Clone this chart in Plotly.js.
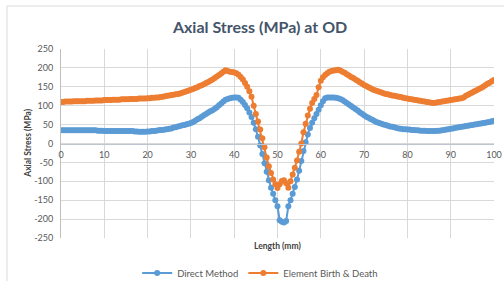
<!DOCTYPE html>
<html>
<head>
<meta charset="utf-8">
<script src="https://cdn.plot.ly/plotly-3.0.1.min.js"></script>
<style>
html,body{margin:0;padding:0;background:#fff;}
#chart{width:504px;height:281px;}
</style>
</head>
<body>
<div id="chart"></div>
<script>
// Length (mm)
var lengthMm = [
  0,0.5,1,1.5,2,2.5,3,3.5,4,4.5,
  5,5.5,6,6.5,7,7.5,8,8.5,9,9.5,
  10,10.5,11,11.5,12,12.5,13,13.5,14,14.5,
  15,15.5,16,16.5,17,17.5,18,18.5,19,19.5,
  20,20.5,21,21.5,22,22.5,23,23.5,24,24.5,
  25,25.5,26,26.5,27,27.5,28,28.5,29,29.5,
  30,30.5,31,31.5,32,32.5,33,33.5,34,34.5,
  35,35.5,36,36.5,37,37.5,38,38.5,39,39.5,
  40,40.5,41,41.5,42,42.5,43,43.5,44,44.5,
  45,45.5,46,46.5,47,47.5,48,48.5,49,49.5,
  50,50.5,51,51.5,52,52.5,53,53.5,54,54.5,
  55,55.5,56,56.5,57,57.5,58,58.5,59,59.5,
  60,60.5,61,61.5,62,62.5,63,63.5,64,64.5,
  65,65.5,66,66.5,67,67.5,68,68.5,69,69.5,
  70,70.5,71,71.5,72,72.5,73,73.5,74,74.5,
  75,75.5,76,76.5,77,77.5,78,78.5,79,79.5,
  80,80.5,81,81.5,82,82.5,83,83.5,84,84.5,
  85,85.5,86,86.5,87,87.5,88,88.5,89,89.5,
  90,90.5,91,91.5,92,92.5,93,93.5,94,94.5,
  95,95.5,96,96.5,97,97.5,98,98.5,99,99.5,
  100
];

// Direct Method (MPa)
var directMethod = [
  35,35,35,35,35,35,35,35,35,35,
  35,35,35,35,35,35,35,34,34,34,
  33,33,33,33,33,33,33,33,33,33,
  33,33,33,33,32,32,31,31,31,31,
  32,32,33,33,34,35,36,36,37,38,
  39,40,42,43,45,46,48,49,51,52,
  54,57,60,64,67,71,75,78,82,85,
  88,92,96,101,106,111,116,118,120,121,
  122,122,121,116,110,102,93,82,70,55,
  38,18,-5,-28,-52,-75,-97,-117,-133,-150,
  -166,-203,-207,-209,-205,-166,-150,-133,-115,-95,
  -72,-46,-20,3,24,41,55,67,78,89,
  101,112,120,122,122,122,122,121,120,118,
  115,111,107,103,99,95,91,87,83,79,
  75,71,68,65,62,59,56,54,52,50,
  49,47,45,44,43,41,40,39,38,38,
  37,37,36,36,35,35,34,34,34,33,
  33,33,33,33,34,34,35,36,37,38,
  39,40,41,42,43,44,45,46,47,48,
  49,50,51,52,53,54,55,56,57,59,
  60
];

// Element Birth & Death (MPa)
var elementBirthDeath = [
  110,110,111,111,111,111,112,112,112,112,
  112,112,113,113,113,113,114,114,114,114,
  115,115,115,115,116,116,116,116,117,117,
  117,117,118,118,118,118,119,119,119,119,
  120,120,121,121,122,122,123,124,125,126,
  127,128,129,130,131,132,134,136,138,140,
  142,144,147,149,152,154,157,160,163,166,
  169,173,177,181,185,190,194,192,190,189,
  188,186,182,176,169,160,150,138,124,100,
  78,58,37,14,-10,-37,-60,-78,-95,-108,
  -118,-108,-99,-97,-105,-117,-100,-82,-64,-45,
  -22,0,30,52,74,92,107,118,128,149,
  166,175,181,186,190,192,193,194,195,193,
  190,187,183,180,176,173,169,166,162,159,
  155,152,149,146,143,141,139,137,135,133,
  131,130,128,127,126,125,124,123,121,120,
  119,118,117,116,115,114,113,112,111,110,
  109,108,107,108,109,110,111,112,113,114,
  115,116,117,118,119,120,122,126,129,132,
  135,138,141,144,147,150,154,158,161,165,
  168
];

var xTickVals = [0,10,20,30,40,50,60,70,80,90,100];
var xTickText = ["0","10","20","30","40","50","60","70","80","90","100"];
var yTickVals = [250,200,150,100,50,0,-50,-100,-150,-200,-250];
var yTickText = ["250","200","150","100","50","0","-50","-100","-150","-200","-250"];

var FONT = "Lato, 'Open Sans', sans-serif";
var BLUE = "#5B9BD5", ORANGE = "#ED7D31";

var traces = [
  {x: lengthMm, y: directMethod, name: "Direct Method", type: "scatter", mode: "lines+markers",
   line: {color: BLUE, width: 2}, marker: {color: BLUE, size: 6}},
  {x: lengthMm, y: elementBirthDeath, name: "Element Birth & Death", type: "scatter", mode: "lines+markers",
   line: {color: ORANGE, width: 2}, marker: {color: ORANGE, size: 6}}
];

var layout = {
  width: 504, height: 281,
  margin: {l: 61, r: 10, t: 49, b: 43, pad: 0, autoexpand: false},
  paper_bgcolor: "#fff", plot_bgcolor: "#fff",
  font: {family: FONT, color: "#595959", size: 9},
  showlegend: true,
  title: {text: "Axial Stress (MPa) at OD", font: {family: FONT, size: 16, color: "#44546A", weight: "bold"},
          xref: "container", x: 0.516, xanchor: "center", yref: "container", y: 0.904, yanchor: "middle",
          automargin: false},
  xaxis: {range: [0, 100], tickvals: xTickVals, ticktext: xTickText,
          anchor: "free", position: 0.5, automargin: false,
          showgrid: true, gridcolor: "#D9D9D9", gridwidth: 1,
          showline: true, linecolor: "#BFC5CE", linewidth: 1,
          zeroline: false, ticks: "outside", ticklen: 3, tickcolor: "rgba(0,0,0,0)",
          tickfont: {family: FONT, size: 9, color: "#595959"}},
  yaxis: {range: [-250, 250], tickvals: yTickVals, ticktext: yTickText, automargin: false,
          showgrid: true, gridcolor: "#D9D9D9", gridwidth: 1,
          showline: true, linecolor: "#BFBFBF", linewidth: 1,
          zeroline: false, ticks: "outside", ticklen: 5, tickcolor: "rgba(0,0,0,0)",
          tickfont: {family: FONT, size: 9, color: "#595959"}},
  legend: {orientation: "h", x: 0.46, xanchor: "center", y: -0.185, yanchor: "middle",
           font: {family: FONT, size: 9.5, color: "#595959"}, itemwidth: 30, bgcolor: "rgba(0,0,0,0)"},
  annotations: [
    {text: "Length (mm)", xref: "paper", yref: "paper", x: 0.5, y: -0.04, yanchor: "middle", showarrow: false,
     font: {family: FONT, size: 8.5, color: "#404040", weight: "bold"}},
    {text: "Axial Stress (MPa)", xref: "paper", yref: "paper", x: -0.078, y: 0.5, textangle: -90,
     xanchor: "center", yanchor: "middle", showarrow: false,
     font: {family: FONT, size: 8.5, color: "#404040", weight: "bold"}}
  ],
  shapes: [
    {type: "rect", xref: "paper", yref: "paper", x0: -0.1247, x1: 1.2, y0: -0.5, y1: 1.2275,
     line: {color: "#D9D9D9", width: 1}, fillcolor: "rgba(0,0,0,0)", layer: "below"}
  ]
};

Plotly.newPlot("chart", traces, layout, {staticPlot: true, displayModeBar: false});
</script>
</body>
</html>
